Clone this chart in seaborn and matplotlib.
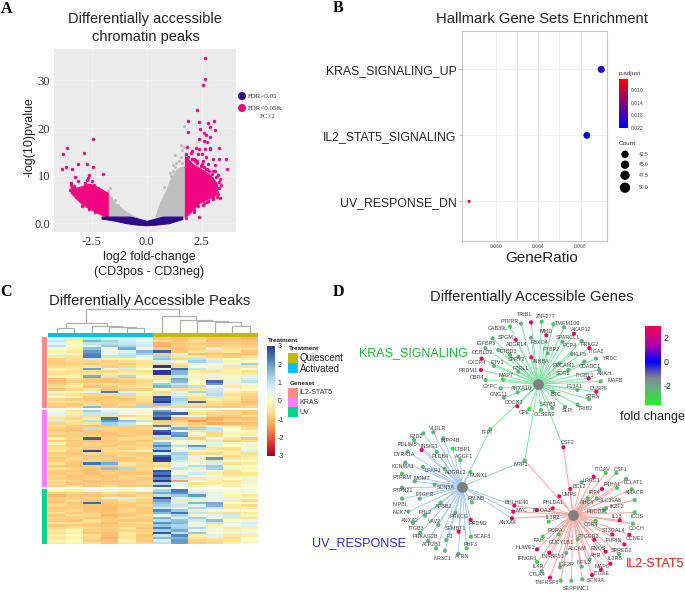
# -*- coding: utf-8 -*-
"""
Four panel figure: volcano plot, enrichment dots, peak heatmap, gene network.
"""

import numpy as np
import matplotlib
matplotlib.use('Agg')
import matplotlib.pyplot as plt
import seaborn as sns
from matplotlib.cm import ScalarMappable
from matplotlib.colors import LinearSegmentedColormap, Normalize
from matplotlib.patches import Rectangle

#%% Panel A data (log2 fold-change, -log10 p)

# dense areas, read as lower and upper edge of the cloud
left_pink_x = [-3.45, -3.2, -3.0, -2.8, -2.6, -2.4, -2.2, -2.0, -1.77]
left_pink_lo = [6.4, 5.2, 4.3, 3.6, 3.1, 2.6, 2.1, 1.7, 1.4]
left_pink_hi = [7.6, 7.5, 7.7, 8.1, 8.3, 8.0, 7.5, 7.0, 6.4]
left_gray_x = [-1.77, -1.5, -1.2, -0.9, -0.6, -0.4]
left_gray_hi = [6.4, 4.5, 3.3, 2.3, 1.5, 1.1]
left_gray_lo = [1.4, 1.4, 1.4, 1.4, 1.3, 1.1]
right_gray_x = [0.4, 0.6, 0.9, 1.05, 1.36, 1.55, 1.74]
right_gray_hi = [1.4, 4.2, 7.0, 9.0, 11.3, 11.8, 11.9]
right_gray_lo = [1.4, 1.4, 1.4, 1.4, 1.4, 1.4, 1.4]
right_pink_x = [1.74, 1.9, 2.1, 2.4, 2.7, 3.0, 3.2]
right_pink_lo = [1.4, 1.9, 2.9, 4.3, 5.0, 5.6, 6.2]
right_pink_hi = [14.2, 13.4, 12.4, 11.6, 10.8, 9.6, 8.2]
navy_x = [-2.05, -1.5, -1.0, -0.75, -0.4, 0.0, 0.4, 0.75, 1.0, 1.62]
navy_hi = [1.4, 1.4, 1.4, 1.4, 1.0, 0.5, 1.0, 1.4, 1.4, 1.4]
navy_lo = [1.0, 0.6, 0.1, -0.1, -0.3, -0.4, -0.3, -0.1, 0.0, 0.9]

# single points outside the dense areas
pink_x = [2.67, 2.67, 2.56, 2.3, 1.86, 2.39, 2.77, 3.06, 2.9, 1.9, 2.42, 2.62,
          3.1, 2.7, 2.9, 2.4, 2.6, 2.75, 3.3, 2.9, 1.85, 2.25, 2.4, 2.65, 2.9,
          2.0, 2.35, 2.7, 3.0, 3.6, 3.3, 3.67, 3.1, 2.8, 2.5, 2.3, 3.25, 3.0,
          3.35, 3.3, 3.05, 2.8, 2.9, 3.0, 2.39, 2.6, 1.8, 1.9, 2.05, 2.15, 2.5,
          2.2, 3.1, 2.95, 2.75, 1.95, 2.55, 2.85, 3.2, 2.15, 2.7, 2.45, 1.8,
          2.6, 2.85, 3.15, 3.3, 3.4, 3.25, 3.1, 2.95, 2.2, 2.45, 2.75, 2.05, 2.3,
          2.55, 2.35, 2.15, 3.2, 3.35, 3.0, 2.8, 2.6,
          -2.45, -3.6, -3.8, -2.85, -3.1, -2.7, -2.45, -3.65, -3.4, -3.85, -2.0,
          -2.6, -2.65, -3.25, -3.1, -3.45, -3.42, -2.7, -2.8, -2.5, -2.4, -2.2,
          -2.05, -3.2, -3.1, -3.0, -2.9, -3.3, -3.5, -2.95, -2.35, -2.6, -3.35]
pink_y = [34.8, 30.4, 29.1, 23.7, 21.5, 21.3, 21.0, 21.4, 20.3, 19.1, 19.8, 19.0,
          19.5, 18.5, 18.2, 17.6, 17.3, 17.0, 15.9, 15.9, 16.0, 15.8, 15.5, 15.6,
          15.6, 14.8, 14.5, 14.0, 13.6, 13.5, 13.5, 11.5, 12.2, 12.5, 12.4, 13.0,
          10.2, 11.0, 9.2, 8.6, 8.6, 9.8, 5.5, 5.3, 1.4, 5.0, 14.5, 13.9, 15.2,
          13.6, 14.6, 13.2, 10.9, 8.0, 4.4, 2.6, 3.9, 7.0, 6.6, 2.4, 11.5, 6.0, 1.2,
          11.8, 10.9, 9.8, 7.4, 8.0, 6.2, 6.9, 10.4, 13.0, 12.1, 11.3, 13.4, 12.6,
          13.1, 3.6, 2.7, 5.6, 5.3, 5.1, 4.7, 4.3,
          17.7, 15.9, 14.6, 14.7, 12.4, 12.4, 11.9, 11.9, 11.5, 11.3, 10.3,
          10.1, 9.6, 9.7, 8.8, 8.4, 8.1, 9.0, 8.4, 8.8, 8.0, 7.3,
          6.5, 5.6, 5.2, 4.7, 4.2, 7.8, 7.0, 3.7, 2.3, 2.9, 6.4]
gray_x = [1.7, 1.55, 1.68, 1.6, 1.3, 1.55, 1.2, 1.35, 1.05, 1.2, 1.45, 1.6, 1.3,
          -1.65, -1.75, -1.7, -1.6, -1.45, -1.3, 0.8, 1.1]
gray_y = [20.4, 16.5, 16.1, 15.3, 14.4, 14.0, 12.2, 12.6, 10.5, 11.0, 13.0, 12.6,
          11.9, 7.3, 6.7, 5.8, 5.2, 4.9, 3.9, 7.6, 9.9]

#%% Panel B data

gene_sets = ['KRAS_SIGNALING_UP', 'IL2_STAT5_SIGNALING', 'UV_RESPONSE_DN']
gene_ratio = [0.06997, 0.0686, 0.0574]
p_adjust = [0.0195, 0.0220, 0.0066]
gene_count = [50, 49, 41]
ratio_ticks = [0.060, 0.064, 0.068]
padj_ticks = [0.010, 0.014, 0.018, 0.022]
count_levels = ['42.5', '45.0', '47.5', '50.0']

#%% Panel C data, z-scores. Columns: 6 activated then 6 quiescent samples

il2_rows = [
    [0.4, -0.3, 1.0, 0.6, 0.5, 0.2, -0.9, -1.0, -0.8, -1.0, -1.0, -1.1],
    [0.9, -0.2, 1.7, 1.3, 0.8, 0.6, -0.7, -0.9, -0.6, -1.0, -0.9, -1.0],
    [0.6, -0.1, 1.0, 1.1, 0.9, 0.7, -1.1, -0.9, -0.8, -0.8, -0.8, -0.9],
    [1.0, 0.1, 0.6, 1.4, 1.2, 0.8, -1.2, -0.8, -0.7, -0.9, -0.7, -0.8],
    [0.3, -0.2, 1.5, 0.2, 1.8, 0.3, -0.8, -1.0, -0.8, 0.7, -0.6, -0.7],
    [-0.2, -0.4, 2.0, 0.4, 0.7, 1.6, 2.6, -0.9, -0.5, -0.6, -0.5, -0.9],
    [0.5, -0.1, 2.2, 0.3, 0.9, 1.3, -0.8, 0.6, -1.0, -0.9, -1.0, -1.0],
    [-0.4, -0.5, 2.3, 0.9, 1.0, 0.6, 1.2, -0.5, -0.4, -0.7, -0.8, -0.6],
    [-0.7, -0.6, 0.8, -0.3, -0.2, 0.2, 1.5, -0.7, 1.0, -0.4, 0.2, -0.3],
    [-0.8, -0.7, -0.7, -0.8, -0.6, -0.5, 0.7, 0.3, 1.3, 0.8, -0.2, 0.1],
    [-0.9, -0.8, -0.9, -0.7, -0.9, -0.6, -0.6, -0.5, 0.6, 0.3, 0.5, 1.3],
    [-0.7, -0.6, -0.5, -0.8, -0.7, -0.4, 3.0, -0.7, 0.2, -0.2, -0.4, -0.5],
    [-0.2, -0.4, 1.9, 0.6, 0.8, 0.3, 0.5, 2.5, 0.9, 0.6, -0.3, 0.2],
    [-0.5, -0.6, -0.6, -0.7, -0.5, -0.6, 3.0, 1.7, -0.4, -0.5, -0.2, -0.6],
    [-0.6, -0.5, -0.4, -0.3, -0.2, -0.4, 3.0, 1.6, 0.1, 0.4, -0.3, -0.4],
    [-0.3, -0.2, 1.8, 0.8, 1.2, 0.3, -0.6, 0.9, -0.2, 0.5, 0.3, 0.6],
    [-1.0, -0.6, -0.8, -0.9, -0.7, -0.5, -0.4, 1.8, 0.4, -0.3, -0.1, 0.7],
    [-1.1, -0.8, -0.9, -1.0, -0.9, -0.7, 0.2, 1.6, 0.0, 2.5, 0.5, 1.0],
    [-0.8, -0.5, -0.7, -0.6, -0.8, -0.6, 1.3, 0.9, -0.1, 2.0, -0.2, 0.5],
    [-0.6, -0.4, -0.9, -0.8, -0.6, -0.5, 1.7, 1.3, 1.0, 0.3, -0.4, -0.2],
    [-0.9, -0.7, -0.5, -0.9, -0.8, -0.8, 0.1, -0.6, -0.4, 0.8, 0.3, 0.1],
    [0.2, -0.2, 0.6, 2.3, 0.4, -0.1, -0.7, 0.4, 1.2, 0.9, -0.3, -0.5],
    [-0.4, -0.6, -0.7, -0.6, 1.0, -0.3, -0.5, 0.7, -0.2, 1.1, -0.6, -0.7],
    [0.1, -0.3, -0.8, -0.9, -0.7, -0.5, 2.8, 0.9, -0.5, 0.8, -0.4, -0.8],
    [-0.7, -0.8, -0.9, -0.8, -0.9, -0.6, 2.6, 1.3, -0.6, -0.3, -0.5, -0.9],
    [-0.5, -0.6, -0.7, -0.8, -0.8, -0.7, 3.0, 1.0, 2.5, -0.6, -0.7, -1.0],
    [-0.8, -0.9, -0.6, -0.9, -0.7, -0.8, 1.5, 0.9, -0.6, -0.7, -0.8, -0.8],
    [-0.9, -0.7, 1.6, -0.8, -0.9, 1.2, -0.6, -0.7, -0.8, -0.9, -0.9, -0.7],
]
kras_rows = [
    [0.2, -0.5, 1.3, 0.6, 0.2, 0.1, 1.9, 0.5, -0.2, -0.5, -0.8, -0.8],
    [0.6, -0.3, 0.9, 0.8, 0.4, 0.2, 2.5, 2.6, -0.5, -0.7, -0.7, -0.9],
    [-0.3, -0.5, -0.6, -0.5, -0.7, -0.4, 2.2, 0.3, 0.5, -0.8, -0.9, -0.6],
    [-0.5, -0.7, -0.3, 2.4, 0.0, -0.2, 2.9, -1.1, -0.9, -1.2, -1.0, -1.0],
    [0.8, -0.4, 1.1, 2.0, 1.5, 0.9, -0.9, -0.8, -1.4, -1.0, -0.7, -0.8],
    [-0.7, -0.6, -0.5, 1.3, 0.9, 0.2, -0.7, -0.6, -0.9, -1.2, -1.1, -1.0],
    [-0.6, -0.8, -0.9, -0.9, -0.7, -0.8, 2.3, 0.8, -0.7, 0.5, -0.4, -0.8],
    [-0.8, -0.9, 1.0, -0.7, -0.8, -0.7, 0.4, 1.7, 1.3, 0.9, 0.1, -0.6],
    [-0.9, -1.0, -0.9, -0.8, -0.9, -0.8, 2.6, 0.5, -0.5, 0.8, 0.2, -0.1],
    [-0.7, -0.8, -0.9, -1.0, -0.8, -0.9, 2.9, 1.9, 0.3, -0.7, -0.2, -0.3],
    [-0.9, -0.8, -0.7, -0.9, -0.9, -0.7, 1.0, 2.1, -0.4, -0.6, 0.2, 0.5],
    [-0.3, -0.7, 2.6, -0.8, -0.6, -0.7, -0.8, 0.9, -0.8, 0.4, -0.5, -0.9],
    [-0.8, -0.9, -1.0, -0.9, -0.8, -0.9, 0.5, 0.1, 0.0, -0.4, -0.8, -0.6],
    [-0.2, -0.8, -0.7, -0.8, -0.9, -0.7, 1.6, 0.2, 0.3, 0.6, 0.1, 0.3],
    [-0.7, -0.9, -0.8, -0.9, -0.7, -0.8, 2.2, 1.0, 2.0, -0.3, 0.0, -0.2],
    [-0.6, -0.7, -0.9, -0.7, -0.8, -0.6, 1.5, 0.2, 0.9, -0.5, -0.6, 0.3],
    [-0.5, -0.8, 2.9, -0.6, -0.4, -0.2, 2.8, 0.6, 0.2, -0.2, -0.4, 0.7],
    [-0.8, -0.9, -0.7, -0.8, -0.8, -0.9, 0.8, 1.3, -0.6, -0.7, -0.3, -0.6],
    [-0.7, -0.8, -0.9, -0.9, -0.7, -0.8, 2.5, 1.1, 0.6, 0.2, -0.7, -0.4],
    [-0.9, -0.7, -0.8, -0.8, -0.9, -0.7, 3.0, 1.2, -0.2, 2.0, -0.5, -0.3],
    [-0.8, -0.8, -0.7, -0.9, -0.8, -0.8, 2.9, 0.8, 0.4, -0.4, 0.3, -0.1],
    [-0.6, -0.9, 2.4, 1.8, -0.5, -0.7, -0.5, 0.4, 0.2, 0.7, -0.6, -0.4],
    [-0.9, -1.0, -0.8, -0.9, -0.6, -0.8, -0.7, 0.6, 1.1, 1.4, 0.2, 0.0],
    [-0.5, -0.7, -0.9, 1.5, 1.2, -0.7, -0.2, 0.9, -0.3, 1.3, 0.4, -0.2],
    [-0.8, -0.9, -1.0, -0.9, -0.9, -0.8, 2.7, 0.3, 0.5, 0.2, -0.5, 0.1],
    [-0.9, -0.8, -1.0, -0.8, -0.9, -0.9, 2.4, 0.2, 0.8, -0.3, -0.6, -0.5],
    [-0.7, -1.0, -0.9, -1.0, -0.8, -0.7, 3.0, 1.0, 0.3, 0.4, -0.4, -0.3],
    [-0.8, -0.9, -0.8, -0.9, -0.7, -0.9, 2.2, 0.8, -0.5, -0.2, 0.1, 0.5],
    [-0.6, -0.8, -1.0, -0.9, -0.9, -0.8, 3.0, -1.3, 0.5, -0.3, -0.5, -0.2],
    [-0.7, -0.9, -0.9, -0.8, -0.8, -0.7, 1.2, 0.6, -0.6, -0.4, -0.3, 0.3],
    [-0.8, -0.6, -0.9, -0.7, -0.9, -0.8, 2.6, 0.2, -0.3, 0.1, -0.4, 0.2],
]
uv_rows = [
    [-0.1, -0.3, 0.3, 0.4, -0.2, 0.3, 1.2, 2.3, 0.5, 0.2, 0.1, 0.3],
    [-0.8, -0.7, -0.8, -0.6, -0.7, -0.8, 1.8, 2.1, 0.9, 0.6, 0.2, 0.1],
    [-1.1, -0.9, -0.9, -0.8, -0.9, -0.7, 1.0, 1.4, 2.0, 0.4, -0.2, -0.5],
    [-0.8, -0.8, -0.7, 0.6, 0.7, -0.5, 2.8, 0.5, 0.8, 0.5, 0.6, 0.0],
    [-0.9, -0.7, -0.9, -0.8, -0.6, -0.8, 1.9, -0.4, -0.2, 0.3, -0.3, -0.6],
    [-0.8, -0.9, 2.5, -0.9, -0.7, -0.9, 1.5, 0.7, 1.6, 1.8, 0.2, 0.0],
    [-0.7, -0.8, -0.9, -1.0, -0.9, -0.7, 1.3, 0.9, 0.6, 1.7, -0.4, -0.7],
    [-0.9, -0.8, -1.0, -1.1, -0.8, -0.9, 0.8, 0.4, 1.2, 0.9, -0.5, -0.3],
    [-0.8, -0.7, -0.9, -1.0, -0.7, -0.8, 2.2, 1.4, -0.3, 0.2, 0.3, 0.1],
    [-0.6, -0.9, -0.8, -0.9, -0.8, -0.9, 1.6, 2.4, 0.9, -0.5, -0.6, -0.4],
    [-0.9, -0.7, -0.7, -1.1, -0.9, -0.7, 0.5, 1.2, 0.3, 0.6, 0.8, -0.2],
    [-0.7, -0.8, -0.9, -0.9, -0.6, -0.8, 1.7, 0.7, 1.3, 0.2, -0.4, -0.6],
    [-0.8, -0.9, -0.6, -0.8, -0.9, -0.9, 1.1, 1.5, 0.8, 1.5, 0.1, 0.4],
    [-0.5, -0.6, -0.7, -1.0, -0.7, -0.6, 2.1, 1.6, 0.1, 0.9, 0.6, 0.7],
    [-0.9, -0.8, -0.9, -0.9, -0.8, -0.8, 1.4, 1.2, 0.5, -0.2, 0.3, 0.6],
    [-0.7, -0.5, -0.7, -0.8, -0.5, -0.9, 2.3, 1.3, 1.2, 0.4, -0.5, -0.3],
    [-0.4, -0.2, -0.8, -0.9, -0.7, -0.8, 1.3, 1.8, 0.2, 0.3, -0.2, 0.2],
    [-0.6, -0.3, -0.9, -1.0, -0.4, -0.7, 2.7, 1.0, 1.4, 0.1, 0.5, 0.5],
    [-0.3, -0.1, -0.6, -1.0, -0.5, -0.9, 0.9, 2.2, -0.2, 0.6, -0.4, -0.3],
    [-0.5, -0.3, -0.7, -1.1, -0.6, -0.8, 1.6, 1.7, -0.5, -0.3, -0.6, 0.0],
    [-0.2, 0.0, -0.8, -1.0, -0.3, -0.9, 0.7, 2.0, -0.7, -0.6, -0.5, 0.2],
    [-0.4, -0.2, -0.6, -0.9, -0.5, -0.7, 1.0, 1.9, -0.8, -0.7, -0.3, -0.1],
]
heat_ticks = [3, 2, 1, 0, -1, -2, -3]

# dendrogram merges: left x, right x, left foot, right foot, top of the link
dend_xl = [170, 381, 328, 276, 197, 696, 644, 591, 539, 486, 259]
dend_xr = [223, 433, 407, 367, 322, 749, 722, 683, 637, 588, 537]
dend_yl = [158, 158, 158, 158, 143, 158, 158, 158, 158, 158, 128]
dend_yr = [158, 158, 143, 140, 137, 158, 137, 127, 124, 120, 107]
dend_top = [143, 143, 140, 137, 128, 137, 127, 124, 120, 107, 88]

#%% Panel D data: node places, fc = fold change

kras_genes = ['TRIB1', 'ZNF277', 'PTPRR', 'TMEM100', 'CAB39L', 'AKAP12', 'MMD', 'SPARCL1',
              'SPGM', 'IGFBP3', 'FBXO4', 'PCP4', 'PRKG2', 'ADGRL4', 'DCBLD2', 'ETBD3',
              'PTBP2', 'KLF5', 'ITGA2', 'YRDC', 'INHBA', 'SPRY2', 'CXCR4', 'ETV1',
              'F2RL1', 'CDADC1', 'PECAM1', 'ANKH', 'SCG5', 'ITGBL1', 'PRDM1', 'MAP7',
              'CBR4', 'MAFB', 'GYPC', 'F13A1', 'DUSP6', 'ANXA10', 'GNG11', 'BTC',
              'STRN', 'DOCK2', 'SATB1', 'CPE', 'CCSER2', 'SLPI', 'TRIB2']
kras_x = [603, 635, 573, 670, 540, 702, 649, 732, 557, 488, 603, 697, 755, 505, 466, 540,
          653, 725, 778, 798, 604, 565, 455, 492, 565, 763, 688, 808, 715, 776, 453, 519,
          467, 812, 512, 742, 799, 563, 522, 668, 777, 562, 667, 598, 633, 705, 743]
kras_y = [112, 110, 116, 118, 125, 127, 151, 146, 164, 160, 158, 170, 168, 195, 190, 210,
          205, 207, 189, 221, 217, 215, 221, 243, 260, 230, 235, 254, 255, 280, 255, 283,
          285, 289, 310, 315, 320, 322, 338, 320, 343, 364, 369, 372, 375, 366, 359]
kras_fc = [2.6, -2.5, -2.3, -2.4, -3.2, -2.2, 2.7, 2.5, 2.6, -2.2, -2.1, -2.3, -2.3, -2.3, -2.0, -2.2,
           -2.4, -2.2, 2.6, -2.6, 2.7, -2.2, 2.8, -2.3, -2.2, -2.2, -2.3, -2.3, -2.2, 2.7, 2.9, -3.1,
           -2.3, -2.3, -2.4, -2.1, 2.8, -2.4, -2.1, -2.3, -2.6, 2.8, -2.3, -3.5, -2.4, -2.4, -2.4]
kras_lx = [584, 646, 540, 712, 502, 754, 648, 714, 528, 467, 628, 720, 779, 559, 455, 536,
           663, 750, 799, 840, 633, 558, 441, 501, 573, 778, 700, 825, 698, 764, 414, 528,
           440, 855, 481, 733, 806, 575, 507, 678, 788, 551, 655, 583, 645, 714, 767]
kras_ly = [88, 93, 109, 114, 131, 134, 140, 157, 156, 175, 171, 180, 178, 178, 203, 200,
           194, 207, 200, 221, 229, 224, 233, 232, 250, 243, 242, 264, 264, 270, 256, 272,
           278, 288, 303, 305, 310, 310, 328, 330, 333, 354, 358, 383, 389, 377, 370]

uv_genes = ['VLDLR', 'FZD2', 'INPP4B', 'PDLIM5', 'INSIG1', 'LTBP1', 'PLCB4', 'DYRK1A', 'AGGF1',
            'KCNMA1', 'LPAR1', 'RUNX1', 'ADGRL2', 'PTPRM', 'MGMT', 'SCN5A', 'PTPN21', 'PTGFR',
            'NIPBL', 'FBLN5', 'APBB2', 'NEK7', 'FHL2', 'PRKCE', 'ANXA2', 'VAV2', 'PRDM2',
            'ITGB3', 'SFMBT1', 'PRKAG2B', 'F3', 'SCAF8', 'ATP2B1', 'PHF3', 'ATRN', 'NR3C1']
uv_x = [310, 280, 340, 252, 275, 368, 320, 233, 391, 226, 279, 421, 344, 216, 254, 314, 216, 269,
        216, 426, 332, 235, 285, 376, 249, 325, 422, 270, 386, 294, 349, 423, 318, 410, 385, 345]
uv_y = [7, 10, 25, 30, 60, 56, 66, 65, 90, 98, 111, 126, 117, 131, 154, 164, 173, 206,
        206, 217, 218, 245, 257, 248, 279, 285, 269, 309, 305, 332, 330, 320, 355, 355, 371, 362]
uv_fc = [-2.0, -2.2, -2.2, -2.7, 2.7, -3.1, -2.4, -2.2, -2.4, -2.2, -2.2, -3.0, -2.4, -2.3, -2.1, -2.2, -2.2, -2.2,
         -2.2, -2.4, -2.6, -2.1, -2.3, -2.2, -2.3, -2.1, 2.8, -2.3, 2.7, -2.2, -2.4, -2.4, -2.3, -2.5, -2.3, -2.3]
uv_lx = [322, 260, 362, 232, 297, 398, 331, 224, 402, 220, 310, 446, 376, 215, 276, 347, 217, 285,
         212, 439, 341, 208, 286, 385, 240, 313, 444, 260, 375, 285, 359, 456, 307, 422, 396, 336]
uv_ly = [-6, 19, 33, 42, 50, 58, 78, 75, 80, 108, 122, 137, 128, 143, 145, 173, 183, 195,
         222, 204, 229, 246, 246, 258, 270, 274, 280, 296, 295, 321, 320, 321, 343, 342, 381, 384]

il2_genes = ['ITGAV', 'CSF1', 'LRRC1', 'LCLAT1', 'BCL2', 'P4HA1', 'IRF4', 'AMACR', 'UMPS', 'SLC39A8',
             'PHLDA1', 'AHCY', 'IKZF2', 'PDCD2L', 'ICOS', 'NCOA3', 'IL13', 'IL1R2', 'CCR4', 'COCH',
             'RORA', 'ST3GAL4', 'CCNE1', 'FURIN', 'PTGER2', 'FAH', 'GUCY1B1', 'HUWE1', 'ALCAM',
             'ENOS', 'SPRED2', 'TNFSF10', 'AHR', 'IL2RB', 'IFNGR1', 'NFIL3', 'IGF2R', 'MAP6',
             'IL4R', 'ITGAE', 'CTLA4', 'SCN9A', 'TNFRSF8', 'SERPINC1', 'KLF6', 'TGFB2']
il2_x = [827, 859, 755, 888, 721, 816, 773, 905, 688, 914, 668, 800, 828, 822, 914, 620, 869, 656,
         797, 909, 686, 847, 898, 883, 793, 638, 743, 621, 709, 827, 867, 658, 779, 841, 621, 755,
         690, 813, 635, 786, 660, 757, 692, 724, 791, 861]
il2_y = [129, 129, 157, 147, 177, 177, 205, 178, 199, 210, 235, 205, 235, 240, 247, 240, 271, 275,
         273, 281, 313, 313, 314, 343, 329, 320, 328, 358, 369, 365, 372, 368, 388, 401, 396, 410,
         412, 419, 423, 435, 443, 448, 452, 452, 140, 174]
il2_fc = [-2.6, -2.4, -2.0, -2.1, 2.7, 2.7, -2.4, -2.2, 2.8, -2.6, 2.7, -2.2, -2.2, -2.3, -2.6, 2.6, 2.8, -2.8,
          -2.6, -2.4, -2.3, 2.7, 2.8, 2.8, 2.7, -3.2, -2.3, 2.6, -2.3, 2.7, -2.4, 2.6, -2.1, 2.7, -2.8, -2.2,
          -2.3, 2.9, -2.1, 2.9, 2.8, -2.3, -2.4, -2.2, 2.7, -3.0]
il2_lx = [817, 872, 783, 911, 747, 845, 794, 914, 717, 841, 670, 771, 862, 800, 922, 635, 860, 667,
          784, 920, 675, 851, 916, 852, 775, 627, 694, 586, 742, 803, 876, 669, 798, 855, 592, 761,
          708, 816, 625, 815, 622, 796, 652, 738, -99, -99]
il2_ly = [118, 119, 150, 158, 170, 163, 188, 188, 195, 210, 216, 216, 231, 245, 258, 241, 260, 263,
          285, 294, 300, 303, 325, 333, 318, 331, 338, 352, 357, 354, 362, 380, 376, 387, 385, 397,
          402, 408, 411, 431, 433, 453, 456, 476, -99, -99]

# genes tied to more than one hub
shared_genes = ['NRP1', 'TFPI', 'CSF2', 'BHLHE40', 'MYC', 'ANXA4']
shared_x = [584, 481, 700, 553, 550, 546]
shared_y = [92, -2, 52, 227, 245, 265]
shared_fc = [-2.6, -2.3, 2.7, 2.7, 2.8, 2.8]
shared_lx = [571, 470, 712, 561, 573, 535]
shared_ly = [103, 9, 38, 216, 240, 278]
shared_hubs = ['KUI', 'KU', 'KI', 'UI', 'UI', 'UI']
hub_x = {'K': 625, 'U': 396, 'I': 729}
hub_y = {'K': 298, 'U': 605, 'I': 689}
fc_ticks = [2, 0, -2]

#%% Set up

sns.set_style('white')
plt.rcParams['font.family'] = ['Liberation Sans', 'DejaVu Sans']
plt.rcParams['axes.unicode_minus'] = False

W, H = 685, 592
fig = plt.figure(figsize=(W/100, H/100), dpi=100)


def px_axes(left, top, right, bottom):
    # axes placed by picture pixels
    return fig.add_axes([left/W, 1-bottom/H, (right-left)/W, (bottom-top)/H])


def colorbar(left, top, right, bottom, cmap, vmin, vmax, ticks, size, color):
    cax = px_axes(left, top, right, bottom)
    cb = fig.colorbar(ScalarMappable(Normalize(vmin, vmax), cmap), cax=cax)
    cb.outline.set_visible(False)
    cb.set_ticks(ticks)
    cb.ax.tick_params(length=0, labelsize=size, labelcolor=color, pad=2)
    return cb


# overlay for the free text and the legend keys, in picture pixels
over = fig.add_axes([0, 0, 1, 1], zorder=20)
over.set_xlim(0, W)
over.set_ylim(H, 0)
over.axis('off')
over.patch.set_alpha(0)

for letter, lx, ly in [('A', 7, 9), ('B', 338, 8), ('C', 6, 292), ('D', 338, 292)]:
    over.text(lx, ly, letter, family='Liberation Serif', weight='bold', fontsize=11.5,
              ha='center', va='center', color='black')

#%% Panel A

PINK = '#F0047F'
NAVY = '#2E0A8C'
GRAY = '#BEBEBE'

ax = px_axes(54.3, 49, 235.7, 232.3)
ax.set_facecolor('#EBEBEB')
ax.grid(True, color='#F6F6F6', linewidth=0.5)
ax.set_axisbelow(True)
ax.fill_between(left_gray_x, left_gray_lo, left_gray_hi, color=GRAY, linewidth=0.8, zorder=2)
ax.fill_between(right_gray_x, right_gray_lo, right_gray_hi, color=GRAY, linewidth=0.8, zorder=2)
sns.scatterplot(x=gray_x, y=gray_y, color=GRAY, s=5, linewidth=0, ax=ax, zorder=2)
ax.fill_between(left_pink_x, left_pink_lo, left_pink_hi, color=PINK, linewidth=0.8, zorder=3)
ax.fill_between(right_pink_x, right_pink_lo, right_pink_hi, color=PINK, linewidth=0.8, zorder=3)
sns.scatterplot(x=pink_x, y=pink_y, color=PINK, s=6, linewidth=0, ax=ax, zorder=3)
ax.fill_between(navy_x, navy_lo, navy_hi, color=NAVY, linewidth=0.8, zorder=4)
ax.set_xlim(-4.2, 4.05)
ax.set_ylim(-1.9, 36.6)
ax.set_xticks([-2.5, 0, 2.5], ['-2.5', '0.0', '2.5'], family='Liberation Serif', fontsize=9, color='#333333')
ax.set_yticks([0, 10, 20, 30], ['0.0', '10', '20', '30'], family='Liberation Serif', fontsize=9, color='#333333')
ax.tick_params(length=0, pad=3)
sns.despine(ax=ax, left=True, bottom=True)

over.text(145, 19, 'Differentially accessible', fontsize=10.5, ha='center', va='center', color='#222222')
over.text(146, 37, 'chromatin peaks', fontsize=10.5, ha='center', va='center', color='#222222')
over.text(30, 137, '-log(10)pvalue', fontsize=9, rotation=90, ha='center', va='center', color='#222222')
over.text(149, 257, 'log2 fold-change', fontsize=9, ha='center', va='center', color='#222222')
over.text(149, 272, '(CD3pos - CD3neg)', fontsize=9, ha='center', va='center', color='#222222')
over.scatter([242, 242], [96, 108], s=34, c=[NAVY, PINK], linewidths=0)
over.text(248, 96, 'FDR>0.05', family='Liberation Serif', fontsize=5, va='center', color='#333333')
over.text(248, 108, 'FDR<0.05&', family='Liberation Serif', fontsize=5, va='center', color='#333333')
over.text(268, 117, 'FC>2', family='Liberation Serif', fontsize=5, ha='center', va='center', color='#333333')

#%% Panel B

padj_cmap = LinearSegmentedColormap.from_list('padj', ['#FF0000', '#0000FF'])
ax = px_axes(462.3, 30.7, 607.3, 241)
sns.scatterplot(x=gene_ratio, y=gene_sets, hue=p_adjust, palette=padj_cmap,
                hue_norm=Normalize(0.0066, 0.022), size=gene_count, sizes=(5, 26), size_norm=(41, 50),
                linewidth=0, legend=False, ax=ax, zorder=3)
ax.set_xlim(0.05675, 0.07055)
ax.set_ylim(2.6, -0.586)
ax.set_xticks(ratio_ticks, ['%.3f' % t for t in ratio_ticks])
ax.set_xticks([0.062, 0.066], minor=True)
ax.grid(True, which='both', color='#F0F0F0', linewidth=0.7)
ax.set_axisbelow(True)
ax.tick_params(axis='x', length=0, labelsize=3.6, labelcolor='#555555', pad=2)
ax.tick_params(axis='y', length=2, width=0.5, color='#AAAAAA', labelsize=8.8, labelcolor='#222222', pad=2, left=True)
for s in ax.spines.values():
    s.set_visible(True)
    s.set_color('#C4C4C4')
    s.set_linewidth(0.8)

over.text(541.5, 19, 'Hallmark Gene Sets Enrichment', fontsize=10.6, ha='center', va='center', color='#222222')
over.text(542, 258, 'GeneRatio', fontsize=11, ha='center', va='center', color='#222222')
over.text(630, 73, 'p.adjust', fontsize=4.6, ha='center', va='center', color='#333333')
cb = colorbar(619, 79.3, 628, 128, padj_cmap, 0.0066, 0.022, padj_ticks, 3.6, '#444444')
cb.ax.invert_yaxis()
cb.ax.set_yticklabels(['%.3f' % t for t in padj_ticks])
over.text(627, 143.7, 'Count', fontsize=4.6, ha='center', va='center', color='#333333')
count_y = [154.3, 164.7, 175.3, 187.7]
over.scatter([625]*4, count_y, s=[28, 36, 45, 55], c='black', linewidths=0)
for lev, cy in zip(count_levels, count_y):
    over.text(639, cy, lev, fontsize=3.6, va='center', color='#444444')

#%% Panel C

blocks = [(il2_rows, 337.3, 408.3), (kras_rows, 410, 487.3), (uv_rows, 489, 544)]
for rows, top, bottom in blocks:
    ax = px_axes(48, top, 258.3, bottom)
    sns.heatmap(np.array(rows), ax=ax, cmap='RdYlBu', vmin=-3, vmax=3, cbar=False,
                xticklabels=False, yticklabels=False)

# sample and geneset strips
TREAT_A = '#00BFFF'
TREAT_Q = '#BDBD00'
GENESET = ['#FF8C82', '#FF80FF', '#00D68F']
over.add_patch(Rectangle((48, 332.7), 105.2, 4.6, color=TREAT_A, linewidth=0))
over.add_patch(Rectangle((153.2, 332.7), 105.1, 4.6, color=TREAT_Q, linewidth=0))
for (rows, top, bottom), col in zip(blocks, GENESET):
    over.add_patch(Rectangle((42.3, top), 4.7, bottom-top, color=col, linewidth=0))

# dendrogram, link coordinates are 3x picture pixels from (0, 280)
dend = px_axes(0, 280, 330, 592)
dend.set_xlim(0, 990)
dend.set_ylim(936, 0)
dend.axis('off')
dend.patch.set_alpha(0)
for xl, xr, yl, yr, yt in zip(dend_xl, dend_xr, dend_yl, dend_yr, dend_top):
    dend.plot([xl, xl, xr, xr], [yl, yt, yt, yr], color='#B0B0B0', linewidth=0.9)

over.text(150, 301, 'Differentially Accessible Peaks', fontsize=10.6, ha='center', va='center', color='#222222')
colorbar(267.3, 346, 274.7, 455.7, 'RdYlBu', -3, 3, heat_ticks, 5, '#333333')
over.text(283, 340.5, 'Treatment', fontsize=4.6, weight='bold', ha='center', va='center', color='#222222')
over.text(304, 348.5, 'Treatment', fontsize=4.6, weight='bold', ha='center', va='center', color='#222222')
over.add_patch(Rectangle((288, 353.3), 9.7, 10, color=TREAT_Q, linewidth=0))
over.add_patch(Rectangle((288, 363.3), 9.7, 10, color=TREAT_A, linewidth=0))
over.text(300, 358.3, 'Quiescent', fontsize=7, va='center', color='#222222')
over.text(300, 369, 'Activated', fontsize=7, va='center', color='#222222')
over.text(302, 383.3, 'Geneset', fontsize=4.6, weight='bold', ha='center', va='center', color='#222222')
for i, (name, col) in enumerate(zip(['IL2-STAT5', 'KRAS', 'UV'], GENESET)):
    over.add_patch(Rectangle((288, 387.7+9.8*i), 9.7, 9.8, color=col, linewidth=0))
    over.text(299.5, 392.5+9.8*i, name, fontsize=5, va='center', color='#333333')

#%% Panel D, network coordinates are 3x picture pixels from (330, 285)

fc_cmap = LinearSegmentedColormap.from_list(
    'fc', [(0, '#22F030'), (0.25, '#6FA58A'), (0.35, '#808090'), (0.545, '#0000FF'),
           (0.76, '#B000A8'), (1, '#F5004F')])
EDGE = {'K': '#80E3A0', 'U': '#A6C8F5', 'I': '#F8A8A0'}
LOWER = 435  # the lower crop starts 435 units below the upper one

net = px_axes(330, 285, 685, 592)
net.set_xlim(0, 1065)
net.set_ylim(921, 0)
net.axis('off')
net.patch.set_alpha(0)

groups = [('K', kras_genes, kras_x, kras_y, kras_fc, kras_lx, kras_ly, 0),
          ('U', uv_genes, uv_x, uv_y, uv_fc, uv_lx, uv_ly, LOWER),
          ('I', il2_genes, il2_x, il2_y, il2_fc, il2_lx, il2_ly, LOWER)]
for key, genes, xs, ys, fcs, lxs, lys, shift in groups:
    ys = np.array(ys) + shift
    for x, y in zip(xs, ys):
        net.plot([hub_x[key], x], [hub_y[key], y], color=EDGE[key], linewidth=0.7, zorder=1)
    sns.scatterplot(x=xs, y=ys, hue=fcs, palette=fc_cmap, hue_norm=(-3.6, 3), s=9, linewidth=0,
                    legend=False, ax=net, zorder=3)
    for g, lx, ly in zip(genes, lxs, lys):
        if lx > 0:
            net.text(lx, ly+shift, g, fontsize=3.9, ha='center', va='center', color='#444444', zorder=4)

sh_y = np.array(shared_y) + LOWER
for x, y, hubs in zip(shared_x, sh_y, shared_hubs):
    for key in hubs:
        net.plot([hub_x[key], x], [hub_y[key], y], color=EDGE[key], linewidth=0.7, zorder=1)
sns.scatterplot(x=shared_x, y=sh_y, hue=shared_fc, palette=fc_cmap, hue_norm=(-3.6, 3), s=9,
                linewidth=0, legend=False, ax=net, zorder=3)
for g, lx, ly in zip(shared_genes, shared_lx, shared_ly):
    net.text(lx, ly+LOWER, g, fontsize=3.9, ha='center', va='center', color='#444444', zorder=4)
sns.scatterplot(x=list(hub_x.values()), y=list(hub_y.values()), color='#808080', s=60, linewidth=0,
                ax=net, zorder=3)

over.text(532, 297.5, 'Differentially Accessible Genes', fontsize=10.6, ha='center', va='center', color='#222222')
over.text(413, 353, 'KRAS_SIGNALING', fontsize=9, ha='center', va='center', color='#22B33A')
over.text(359, 543, 'UV_RESPONSE', fontsize=9, ha='center', va='center', color='#2A2AE8')
over.text(655.5, 564, 'IL2-STAT5', fontsize=9, ha='center', va='center', color='#F01818')
colorbar(645, 325.7, 661, 405, fc_cmap, -3.6, 3, fc_ticks, 6.5, '#333333')
over.text(652, 417, 'fold change', fontsize=9, ha='center', va='center', color='#222222')

fig.savefig('out.png', dpi=100)
